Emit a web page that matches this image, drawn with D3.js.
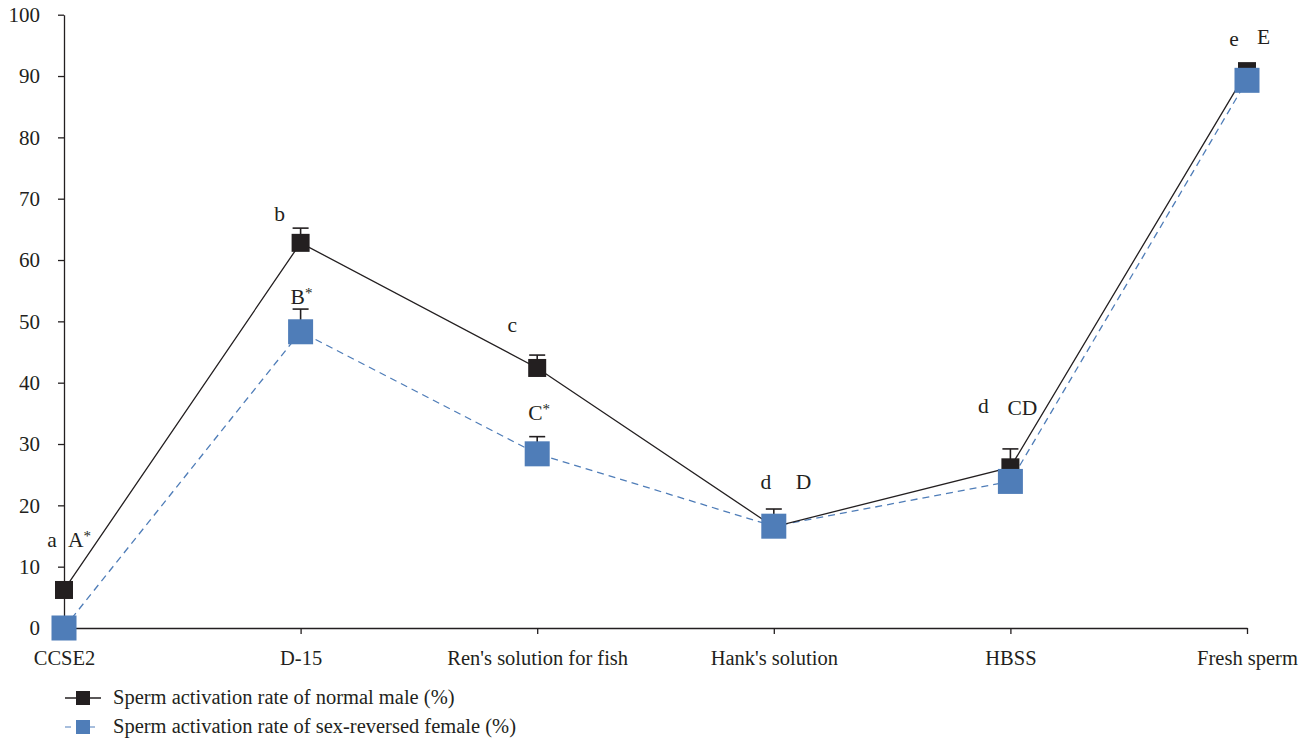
<!DOCTYPE html>
<html>
<head>
<meta charset="utf-8">
<script src="https://cdn.jsdelivr.net/npm/d3@7"></script>
<style>
  body { margin: 0; background: #fff; }
</style>
</head>
<body>
<svg id="chart" width="1315" height="743" font-family="'Liberation Serif', 'DejaVu Serif', serif"></svg>
<script>
// Activation media on the x axis
const categories = ["CCSE2", "D-15", "Ren's solution for fish", "Hank's solution", "HBSS", "Fresh sperm"];

// Sperm activation rate (%) and upper error (SE)
const maleValues = [6.2, 62.8, 42.4, 16.5, 26.2, 90.8];
const maleErrors = [0, 2.4, 2.1, 2.9, 3.0, 0.4];
const femaleValues = [0, 48.3, 28.4, 16.6, 23.9, 89.3];
const femaleErrors = [0, 3.7, 2.8, 0, 0, 0];

// Significance letters
const maleLetters = ["a", "b", "c", "d", "d", "e"];
const femaleLetters = ["A*", "B*", "C*", "D", "CD", "E"];

const yTicks = [0, 10, 20, 30, 40, 50, 60, 70, 80, 90, 100];

const seriesNames = [
  "Sperm activation rate of normal male (%)",
  "Sperm activation rate of sex-reversed female (%)"
];

const ink = "#231f20";
const blue = "#4f7db8";
const serif = "'Liberation Serif', 'DejaVu Serif', serif";

const svg = d3.select("#chart");

const x = d3.scalePoint().domain(categories).range([64, 1247]).padding(0);
const y = d3.scaleLinear().domain([0, 100]).range([628, 14.7]);

// Y axis
const yAxis = svg.append("g")
  .attr("transform", "translate(64,0)")
  .call(d3.axisLeft(y).tickValues(yTicks).tickSize(6).tickPadding(18).tickSizeOuter(0))
  .attr("font-family", serif);
yAxis.select(".domain").attr("stroke", ink).attr("stroke-width", 1.3);
yAxis.selectAll(".tick line").attr("stroke", ink).attr("stroke-width", 1.3);
yAxis.selectAll(".tick text").attr("font-size", 21).attr("fill", ink).attr("font-family", serif);

// X axis
const xAxis = svg.append("g")
  .attr("transform", "translate(0,628)")
  .call(d3.axisBottom(x).tickSize(6).tickPadding(16).tickSizeOuter(0))
  .attr("font-family", serif);
xAxis.select(".domain").attr("stroke", ink).attr("stroke-width", 1.3);
xAxis.selectAll(".tick line").attr("stroke", ink).attr("stroke-width", 1.3);
xAxis.selectAll(".tick text").attr("font-size", 20.5).attr("fill", ink).attr("font-family", serif);

const line = d3.line().x((d, i) => x(categories[i])).y(d => y(d));

// Female series (dashed, drawn first so male line sits on top)
svg.append("path")
  .datum(femaleValues)
  .attr("d", line)
  .attr("fill", "none")
  .attr("stroke", blue)
  .attr("stroke-width", 1.3)
  .attr("stroke-dasharray", "7,5");

// Male series
svg.append("path")
  .datum(maleValues)
  .attr("d", line)
  .attr("fill", "none")
  .attr("stroke", ink)
  .attr("stroke-width", 1.3);

// Upper error bars
function errorBars(values, errors) {
  const g = svg.append("g");
  values.forEach((v, i) => {
    if (!errors[i]) return;
    const cx = x(categories[i]);
    g.append("line").attr("x1", cx).attr("x2", cx)
      .attr("y1", y(v)).attr("y2", y(v + errors[i]))
      .attr("stroke", ink).attr("stroke-width", 1.6);
    g.append("line").attr("x1", cx - 8).attr("x2", cx + 8)
      .attr("y1", y(v + errors[i])).attr("y2", y(v + errors[i]))
      .attr("stroke", ink).attr("stroke-width", 1.6);
  });
}
errorBars(maleValues, maleErrors);
errorBars(femaleValues, femaleErrors);

// Markers
const maleSize = 18, femaleSize = 25;
svg.append("g").selectAll("rect")
  .data(maleValues).join("rect")
  .attr("x", (d, i) => x(categories[i]) - maleSize / 2)
  .attr("y", d => y(d) - maleSize / 2)
  .attr("width", maleSize).attr("height", maleSize)
  .attr("fill", ink);

svg.append("g").selectAll("rect")
  .data(femaleValues).join("rect")
  .attr("x", (d, i) => x(categories[i]) - femaleSize / 2)
  .attr("y", d => y(d) - femaleSize / 2)
  .attr("width", femaleSize).attr("height", femaleSize)
  .attr("fill", blue);

// Significance letters: [dx from category, baseline y]
const maleLetterPos = [[-12, 547], [-21, 221], [-25, 332], [-8, 489], [-27, 413], [-13, 46]];
const femaleLetterPos = [[4, 547], [-10, 304], [-9, 420], [22, 489], [-3, 415], [10, 44]];

function drawLetter(label, yy) {
  const t = svg.append("text").attr("font-size", 21.5).attr("y", yy)
    .attr("fill", ink).attr("font-family", serif);
  const star = label.endsWith("*");
  const base = star ? label.slice(0, -1) : label;
  t.append("tspan").text(base);
  if (star) t.append("tspan").attr("font-size", 15).attr("dy", -6).text("*");
  return t;
}
categories.forEach((c, i) => {
  drawLetter(maleLetters[i], maleLetterPos[i][1])
    .attr("x", x(c) + maleLetterPos[i][0]).attr("text-anchor", "middle");
  drawLetter(femaleLetters[i], femaleLetterPos[i][1])
    .attr("x", x(c) + femaleLetterPos[i][0]);
});

// Legend
const legend = svg.append("g");
const legendRows = [
  { name: seriesNames[0], color: ink, size: 14, dash: null, y: 698 },
  { name: seriesNames[1], color: blue, size: 14, dash: "6,6", y: 727 }
];
legendRows.forEach(r => {
  legend.append("line").attr("x1", 65).attr("x2", 101)
    .attr("y1", r.y).attr("y2", r.y)
    .attr("stroke", r.dash ? "#8aa9d2" : r.color).attr("stroke-width", 1.5)
    .attr("stroke-dasharray", r.dash);
  legend.append("rect").attr("x", 83 - r.size / 2).attr("y", r.y - r.size / 2)
    .attr("width", r.size).attr("height", r.size).attr("fill", r.color);
  legend.append("text").attr("x", 113).attr("y", r.y + 6)
    .attr("font-size", 20.5).attr("fill", ink).attr("font-family", serif).text(r.name);
});
</script>
</body>
</html>
